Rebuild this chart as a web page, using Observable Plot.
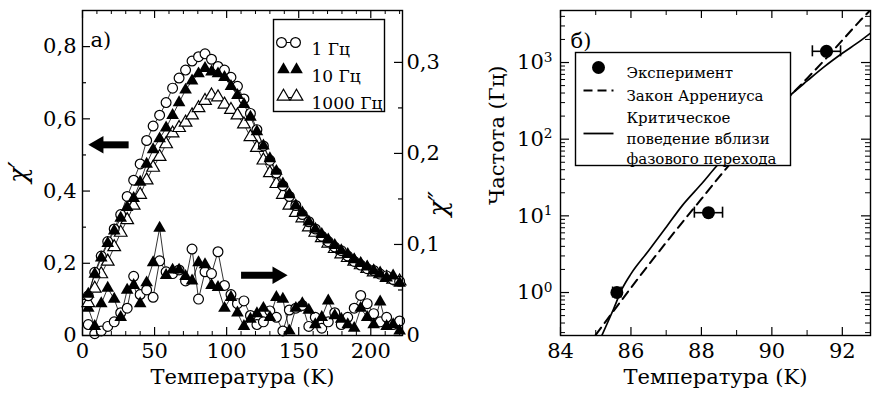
<!DOCTYPE html>
<html><head><meta charset="utf-8">
<script src="https://cdn.jsdelivr.net/npm/d3@7"></script>
<script src="https://cdn.jsdelivr.net/npm/@observablehq/plot@0.6"></script>
<style>
body{margin:0;background:#fff;}
#wrap{position:relative;width:878px;height:400px;overflow:hidden;background:#fff;}
#wrap svg{position:absolute;top:0;}
</style></head><body><div id="wrap"></div>
<script>
// ---------- panel а) data ----------
const tempA = [4,8.5,13,17.5,22,26.5,31,35.5,40,44.5,49,53.5,58,62.5,67,71.5,76,80.5,85,89.5,94,98.5,103,107.5,112,116.5,121,125.5,130,134.5,139,143.5,148,152.5,157,161.5,166,170.5,175,179.5,184,188.5,193,197.5,202,206.5,211,215.5,220];
const chi1Hz = [0.11,0.175,0.22,0.26,0.295,0.335,0.385,0.43,0.475,0.54,0.58,0.61,0.645,0.685,0.713,0.735,0.76,0.772,0.78,0.765,0.745,0.735,0.715,0.69,0.655,0.615,0.57,0.525,0.485,0.45,0.415,0.385,0.36,0.335,0.315,0.295,0.275,0.26,0.245,0.235,0.22,0.205,0.195,0.185,0.18,0.17,0.165,0.155,0.15];
const chi10Hz = [0.115,0.17,0.215,0.255,0.29,0.325,0.355,0.38,0.425,0.475,0.515,0.545,0.575,0.61,0.645,0.68,0.705,0.725,0.74,0.73,0.725,0.715,0.69,0.665,0.64,0.605,0.565,0.525,0.49,0.455,0.42,0.39,0.36,0.34,0.315,0.295,0.28,0.265,0.25,0.235,0.225,0.21,0.2,0.19,0.18,0.17,0.16,0.165,0.145];
const chi1000Hz = [0.09,0.13,0.17,0.205,0.245,0.285,0.32,0.36,0.39,0.43,0.465,0.495,0.53,0.56,0.575,0.59,0.61,0.63,0.65,0.665,0.66,0.64,0.625,0.61,0.585,0.55,0.52,0.485,0.45,0.42,0.39,0.36,0.34,0.325,0.3,0.285,0.27,0.255,0.24,0.225,0.215,0.205,0.195,0.185,0.175,0.17,0.16,0.155,0.15];
const chi2_1Hz = [0.012,0.002,0.005,0.01,0.015,0.025,0.03,0.065,0.045,0.05,0.042,0.082,0.07,0.068,0.072,0.06,0.095,0.04,0.07,0.068,0.092,0.055,0.045,0.035,0.038,0.022,0.012,0.015,0.027,0.02,0.005,0.028,0.03,0.033,0.01,0.02,0.008,0.015,0.025,0.012,0.02,0.03,0.044,0.035,0.024,0.015,0.02,0.012,0.016];
const chi2_10Hz = [0.03,0.01,0.035,0.052,0.04,0.02,0.05,0.055,0.035,0.058,0.08,0.118,0.066,0.072,0.072,0.065,0.06,0.08,0.078,0.055,0.053,0.03,0.042,0.025,0.01,0.018,0.024,0.03,0.02,0.042,0.04,0.005,0.03,0.035,0.028,0.012,0.02,0.038,0.022,0.018,0.012,0.008,0.03,0.02,0.012,0.037,0.01,0.012,0.005];
const seriesNamesA = ["1 Гц", "10 Гц", "1000 Гц"];
const xTicksA = [0, 50, 100, 150, 200];
const xMinorA = [10,20,30,40,60,70,80,90,110,120,130,140,160,170,180,190,210,220];
const yLeftTicks = [0, 0.2, 0.4, 0.6, 0.8];
const yLeftMinor = [0.1, 0.3, 0.5, 0.7];
const yRightTicks = [0, 0.1, 0.2, 0.3];
const yRightMinor = [0.05, 0.15, 0.25];
const yLeftDomain = [0, 0.9];
const yRightDomain = [0, 0.357];
// direction arrows (data units: temperature, χ')
const arrowsA = [
  {from: 32, to: 12.5, head: 11, chi: 0.528, rot: -90},
  {from: 110, to: 133, head: 135.3, chi: 0.167, rot: 90}
];

// ---------- panel б) data ----------
const expT = [85.6, 88.2, 91.55];
const expF = [1.0, 11, 1400];
const expErr = [0.12, 0.4, 0.4];
const arrT = [85.0,85.5,86.0,86.5,87.0,87.5,88.0,88.5,89.0,89.5,90.0,90.5,91.0,91.5,92.0,92.5,92.9];
const arrF = [0.28,0.57,1.15,2.3,4.5,8.7,16.6,32,60,110,204,360,620,1080,1950,3500,5400];
const critT = [85.15,85.5,85.75,86.0,86.5,87.0,87.45,88.0,88.46,89.0,89.5,90.0,90.44,91.0,91.5,92.0,92.5,92.9];
const critF = [0.26,0.6,1.12,1.75,3.5,7.1,13.5,26,46,80,135,224,347,575,890,1320,1900,2630];
const xTicksB = [84, 86, 88, 90, 92];
const xMinorB = [85, 87, 89, 91];
const yTicksB = [1, 10, 100, 1000];
const legendB = ["Эксперимент", "Закон Аррениуса", "Критическое", "поведение вблизи", "фазового перехода"];

// ---------- helpers ----------
const FONT = "'DejaVu Serif', 'Liberation Serif', serif";
const ratio = yLeftDomain[1] / yRightDomain[1];
const comma = d => d === 0 ? "0" : d3.format(".1f")(d).replace(".", ",");
const rowsA = (vals, k = 1) => tempA.map((t, i) => ({t, v: vals[i] * k}));
const hline = len => ({draw(ctx) { ctx.moveTo(-len / 2, 0); ctx.lineTo(len / 2, 0); }});

// ---------- left plot ----------
const W1 = 440, H = 400, mL1 = 82, mR1 = 38, mT = 10, mB = 65;
const FW1 = W1 - mL1 - mR1, FH = H - mT - mB;
const RC = 4.9, RT = 4.7;
const openC = {x: "t", y: "v", r: RC, fill: "white", stroke: "black", strokeWidth: 1.2};
const fillT = {x: "t", y: "v", symbol: "triangle", r: RT, fill: "black"};
const openT = {x: "t", y: "v", symbol: "triangle", r: RT, fill: "white", stroke: "black", strokeWidth: 1.2};
const thin = {x: "t", y: "v", stroke: "black", strokeWidth: 0.8};

const left = Plot.plot({
  width: W1, height: H, marginLeft: mL1, marginRight: mR1, marginTop: mT, marginBottom: mB,
  style: {fontFamily: FONT, fontSize: "21px", background: "transparent", color: "black", overflow: "visible"},
  x: {domain: [0, 222]},
  y: {domain: yLeftDomain},
  marks: [
    // χ'' series
    Plot.line(rowsA(chi2_1Hz, ratio), thin),
    Plot.line(rowsA(chi2_10Hz, ratio), thin),
    Plot.dot(rowsA(chi2_1Hz, ratio), openC),
    Plot.dot(rowsA(chi2_10Hz, ratio), fillT),
    // χ' series
    Plot.line(rowsA(chi1000Hz), thin),
    Plot.line(rowsA(chi1Hz), thin),
    Plot.line(rowsA(chi10Hz), thin),
    Plot.dot(rowsA(chi1000Hz), openT),
    Plot.dot(rowsA(chi1Hz), openC),
    Plot.dot(rowsA(chi10Hz), fillT),
    // arrows
    Plot.link(arrowsA, {x1: "from", x2: "to", y1: "chi", y2: "chi", stroke: "black", strokeWidth: 7}),
    Plot.dot(arrowsA, {x: "head", y: "chi", symbol: "triangle", r: 6.5, rotate: "rot", fill: "black"}),
    // inward ticks
    Plot.tickY(yLeftTicks, {y: d => d, insetRight: FW1 - 8, strokeWidth: 1.2}),
    Plot.tickY(yLeftMinor, {y: d => d, insetRight: FW1 - 4, strokeWidth: 1.2}),
    Plot.tickY(yRightTicks, {y: d => d * ratio, insetLeft: FW1 - 8, strokeWidth: 1.2}),
    Plot.tickY(yRightMinor, {y: d => d * ratio, insetLeft: FW1 - 4, strokeWidth: 1.2}),
    Plot.tickX(xTicksA, {x: d => d, insetTop: FH - 8, strokeWidth: 1.2}),
    Plot.tickX(xTicksA, {x: d => d, insetBottom: FH - 8, strokeWidth: 1.2}),
    Plot.tickX(xMinorA, {x: d => d, insetTop: FH - 4, strokeWidth: 1}),
    Plot.tickX(xMinorA, {x: d => d, insetBottom: FH - 4, strokeWidth: 1}),
    Plot.frame({stroke: "black", strokeWidth: 1.4}),
    // axes
    Plot.axisY(yLeftTicks, {anchor: "left", tickSize: 0, tickPadding: 6, tickFormat: comma, label: null}),
    Plot.axisY(yRightTicks.map(d => d * ratio), {anchor: "right", tickSize: 0, tickPadding: 4, tickFormat: d => comma(Math.round(d / ratio * 100) / 100), label: null}),
    Plot.axisX(xTicksA, {anchor: "bottom", tickSize: 0, tickPadding: 8, label: null}),
    Plot.text(["Температура (K)"], {frameAnchor: "bottom", dy: 48, fontSize: 21}),
    Plot.text(["χ′"], {frameAnchor: "left", dx: -64, dy: 10, rotate: -90, fontSize: 26, fontStyle: "italic"}),
    Plot.text(["χ″"], {frameAnchor: "right", dx: 36, dy: 18, rotate: -90, fontSize: 26, fontStyle: "italic"}),
    Plot.text(["а)"], {frameAnchor: "top-left", dx: 8, dy: 22, textAnchor: "start", fontSize: 21}),
    // legend
    Plot.frame({insetLeft: 191, insetRight: 18, insetTop: 9, insetBottom: 224, fill: "white", stroke: "black", strokeWidth: 1.4}),
    Plot.dot([0], {frameAnchor: "top-left", dx: 206, dy: 32, symbol: hline(14), stroke: "black", fill: "none", strokeWidth: 1}),
    Plot.dot([0], {frameAnchor: "top-left", dx: 199, dy: 32, r: RC, fill: "white", stroke: "black", strokeWidth: 1.2}),
    Plot.dot([0], {frameAnchor: "top-left", dx: 213, dy: 32, r: RC, fill: "white", stroke: "black", strokeWidth: 1.2}),
    Plot.dot([0], {frameAnchor: "top-left", dx: 201, dy: 59, symbol: "triangle", r: RT, fill: "black"}),
    Plot.dot([0], {frameAnchor: "top-left", dx: 214, dy: 59, symbol: "triangle", r: RT, fill: "black"}),
    Plot.dot([0], {frameAnchor: "top-left", dx: 207, dy: 87, symbol: hline(14), stroke: "black", fill: "none", strokeWidth: 1}),
    Plot.dot([0], {frameAnchor: "top-left", dx: 201, dy: 86, symbol: "triangle", r: RT, fill: "white", stroke: "black", strokeWidth: 1.2}),
    Plot.dot([0], {frameAnchor: "top-left", dx: 214, dy: 86, symbol: "triangle", r: RT, fill: "white", stroke: "black", strokeWidth: 1.2}),
    Plot.text([seriesNamesA[0]], {frameAnchor: "top-left", dx: 229, dy: 32, textAnchor: "start", fontSize: 17}),
    Plot.text([seriesNamesA[1]], {frameAnchor: "top-left", dx: 229, dy: 59, textAnchor: "start", fontSize: 17}),
    Plot.text([seriesNamesA[2]], {frameAnchor: "top-left", dx: 229, dy: 86, textAnchor: "start", fontSize: 17})
  ]
});
left.style.left = "0px";

// ---------- right plot ----------
const W2 = 438, mL2 = 120, mR2 = 8;
const FW2 = W2 - mL2 - mR2;
const yDomainB = [0.275, 4770];
const logMinor = [0.1, 1, 10, 100, 1000].flatMap(p => d3.range(2, 10).map(m => m * p)).filter(v => v > yDomainB[0] && v < yDomainB[1]);
const expRows = expT.map((t, i) => ({t, f: expF[i], e: expErr[i]}));
const arrRows = arrT.map((t, i) => ({t, f: arrF[i]}));
const critRows = critT.map((t, i) => ({t, f: critF[i]}));

const right = Plot.plot({
  width: W2, height: H, marginLeft: mL2, marginRight: mR2, marginTop: mT, marginBottom: mB,
  style: {fontFamily: FONT, fontSize: "21px", background: "transparent", color: "black", overflow: "visible"},
  x: {domain: [84, 92.8]},
  y: {type: "log", domain: yDomainB},
  marks: [
    Plot.line(arrRows, {x: "t", y: "f", stroke: "black", strokeWidth: 2, strokeDasharray: "9,6", clip: true}),
    Plot.line(critRows, {x: "t", y: "f", stroke: "black", strokeWidth: 1.7, clip: true, curve: "monotone-x"}),
    Plot.ruleY(expRows, {y: "f", x1: d => d.t - d.e, x2: d => d.t + d.e, stroke: "black", strokeWidth: 1.6}),
    Plot.ruleX(expRows, {x: d => d.t - d.e, y1: d => d.f / 1.18, y2: d => d.f * 1.18, stroke: "black", strokeWidth: 1.6}),
    Plot.ruleX(expRows, {x: d => d.t + d.e, y1: d => d.f / 1.18, y2: d => d.f * 1.18, stroke: "black", strokeWidth: 1.6}),
    Plot.dot(expRows, {x: "t", y: "f", r: 6.5, fill: "black"}),
    // inward ticks
    Plot.tickY(yTicksB, {y: d => d, insetRight: FW2 - 9, strokeWidth: 1.2}),
    Plot.tickY(yTicksB, {y: d => d, insetLeft: FW2 - 9, strokeWidth: 1.2}),
    Plot.tickY(logMinor, {y: d => d, insetRight: FW2 - 5, strokeWidth: 1}),
    Plot.tickY(logMinor, {y: d => d, insetLeft: FW2 - 5, strokeWidth: 1}),
    Plot.tickX(xTicksB, {x: d => d, insetTop: FH - 8, strokeWidth: 1.2}),
    Plot.tickX(xTicksB, {x: d => d, insetBottom: FH - 8, strokeWidth: 1.2}),
    Plot.tickX(xMinorB, {x: d => d, insetTop: FH - 5, strokeWidth: 1}),
    Plot.tickX(xMinorB, {x: d => d, insetBottom: FH - 5, strokeWidth: 1}),
    Plot.frame({stroke: "black", strokeWidth: 1.4}),
    Plot.axisY(yTicksB, {anchor: "left", tickSize: 0, tickPadding: 8, tickFormat: d => String(Math.round(Math.log10(d))), label: null}),
    Plot.axisX(xTicksB, {anchor: "bottom", tickSize: 0, tickPadding: 8, label: null}),
    Plot.text(["Температура (K)"], {frameAnchor: "bottom", dy: 48, fontSize: 21}),
    Plot.text(["Частота (Гц)"], {frameAnchor: "left", dx: -63, dy: 32, rotate: -90, fontSize: 21}),
    Plot.text(["б)"], {frameAnchor: "top-left", dx: 10, dy: 23, textAnchor: "start", fontSize: 21}),
    // legend
    Plot.frame({insetLeft: 15, insetRight: 80, insetTop: 42, insetBottom: 170, fill: "white", stroke: "black", strokeWidth: 1.4}),
    Plot.dot([0], {frameAnchor: "top-left", dx: 38, dy: 57, r: 6.5, fill: "black"}),
    Plot.dot([0], {frameAnchor: "top-left", dx: 38, dy: 80, symbol: hline(30), stroke: "black", fill: "none", strokeWidth: 2.2, strokeDasharray: "9,5"}),
    Plot.dot([0], {frameAnchor: "top-left", dx: 38, dy: 123, symbol: hline(30), stroke: "black", fill: "none", strokeWidth: 1.8}),
    Plot.text([legendB[0]], {frameAnchor: "top-left", dx: 66, dy: 57, textAnchor: "start", fontSize: 15}),
    Plot.text([legendB[1]], {frameAnchor: "top-left", dx: 66, dy: 80, textAnchor: "start", fontSize: 15}),
    Plot.text([legendB[2]], {frameAnchor: "top-left", dx: 66, dy: 102, textAnchor: "start", fontSize: 15}),
    Plot.text([legendB[3]], {frameAnchor: "top-left", dx: 66, dy: 123, textAnchor: "start", fontSize: 15}),
    Plot.text([legendB[4]], {frameAnchor: "top-left", dx: 66, dy: 143, textAnchor: "start", fontSize: 15})
  ]
});
right.style.left = "440px";
// superscript exponents on the log axis
d3.select(right).selectAll('g[aria-label="y-axis tick label"] text').each(function () {
  const e = this.textContent;
  this.textContent = "";
  const s = d3.select(this);
  s.append("tspan").text("10");
  s.append("tspan").attr("dy", "-0.55em").attr("font-size", "0.65em").text(e);
});

const wrap = document.getElementById("wrap");
wrap.appendChild(left);
wrap.appendChild(right);
</script>
</body></html>
